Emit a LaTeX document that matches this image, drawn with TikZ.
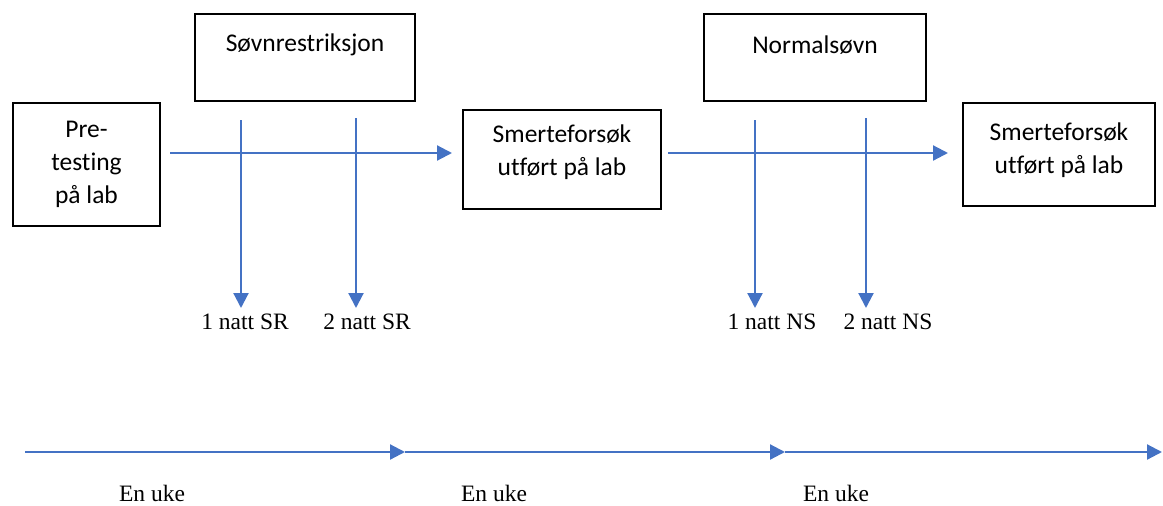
\documentclass[tikz,border=0pt]{standalone}
\usepackage{fontspec}
\setmainfont{Liberation Serif}
\newfontfamily\boxfont[Ligatures=NoCommon]{Carlito}
\usetikzlibrary{arrows.meta}
\definecolor{lineblue}{HTML}{4472C4}
\tikzset{
  stagebox/.style={draw=black, line width=1.6pt, inner sep=0pt},
  boxtext/.style={font=\boxfont\fontsize{25.5}{33}\selectfont, align=center, inner sep=0pt},
  serlabel/.style={font=\fontsize{23.5}{26}\selectfont, inner sep=0pt},
  flow/.style={draw=lineblue, line width=2.2pt, -{Triangle[length=15pt,width=15pt]}},
}
\begin{document}
\begin{tikzpicture}[x=1pt,y=-1pt]
\useasboundingbox (0,0) rectangle (1163,506);
% boxes
\node[stagebox, minimum width=147, minimum height=123] (pre) at (86.5,164.5) {};
\node[boxtext] (pretxt) at (86.5,164) {Pre-\\testing\\på lab};
\node[stagebox, minimum width=220, minimum height=87] (sr) at (305,57.5) {};
\node[boxtext] (srtxt) at (305,45) {Søvnrestriksjon};
\node[stagebox, minimum width=198, minimum height=99] (lab1) at (562,159.5) {};
\node[boxtext] (lab1txt) at (562,152) {Smerteforsøk\\utført på lab};
\node[stagebox, minimum width=222, minimum height=87] (ns) at (815,57.5) {};
\node[boxtext] (nstxt) at (815,45) {Normalsøvn};
\node[stagebox, minimum width=192, minimum height=103] (lab2) at (1059,154.5) {};
\node[boxtext] (lab2txt) at (1059,150) {Smerteforsøk\\utført på lab};
% night labels
\node[serlabel] (sr1) at (245,322) {1 natt SR};
\node[serlabel] (sr2) at (367,322) {2 natt SR};
\node[serlabel] (ns1) at (772,322) {1 natt NS};
\node[serlabel] (ns2) at (888,322) {2 natt NS};
% horizontal flow arrows
\coordinate (a1s) at (170,153);
\coordinate (a1e) at (452,153);
\coordinate (a2s) at (668,153);
\coordinate (a2e) at (948,153);
\draw[flow] (a1s) -- (a1e);
\draw[flow] (a2s) -- (a2e);
% vertical arrows
\coordinate (v1) at (241,120);
\coordinate (v2) at (356,118);
\coordinate (v3) at (755,120);
\coordinate (v4) at (866,118);
\draw[flow] (v1) -- (v1 |- 0,308);
\draw[flow] (v2) -- (v2 |- 0,308);
\draw[flow] (v3) -- (v3 |- 0,308);
\draw[flow] (v4) -- (v4 |- 0,308);
% timeline
\coordinate (t0) at (25,452);
\coordinate (t1) at (405,452);
\coordinate (t2) at (785,452);
\coordinate (t3) at (1162,452);
\draw[flow] (t0) -- (t1);
\draw[flow] (t1) -- (t2);
\draw[flow] (t2) -- (t3);
\node[serlabel] (w1) at (152,493) {En uke};
\node[serlabel] (w2) at (494,493) {En uke};
\node[serlabel] (w3) at (836,493) {En uke};
\end{tikzpicture}
\end{document}
